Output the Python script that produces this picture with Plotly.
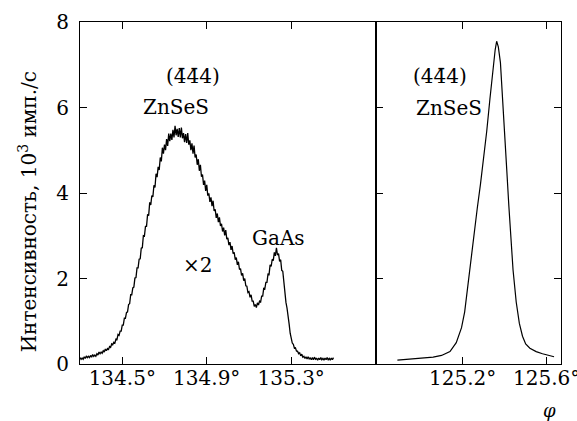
import plotly.graph_objects as go

# ---- data ----
phi_left = [
    134.300, 134.305, 134.310, 134.315, 134.320, 134.325, 134.330, 134.335, 134.340, 134.345,
    134.350, 134.355, 134.360, 134.365, 134.370, 134.375, 134.380, 134.385, 134.390, 134.395,
    134.400, 134.405, 134.410, 134.415, 134.420, 134.425, 134.430, 134.435, 134.440, 134.445,
    134.450, 134.455, 134.460, 134.465, 134.470, 134.475, 134.480, 134.485, 134.490, 134.495,
    134.500, 134.505, 134.510, 134.515, 134.520, 134.525, 134.530, 134.535, 134.540, 134.545,
    134.550, 134.555, 134.560, 134.565, 134.570, 134.575, 134.580, 134.585, 134.590, 134.595,
    134.600, 134.605, 134.610, 134.615, 134.620, 134.625, 134.630, 134.635, 134.640, 134.645,
    134.650, 134.655, 134.660, 134.665, 134.670, 134.675, 134.680, 134.685, 134.690, 134.695,
    134.700, 134.705, 134.710, 134.715, 134.720, 134.725, 134.730, 134.735, 134.740, 134.745,
    134.750, 134.755, 134.760, 134.765, 134.770, 134.775, 134.780, 134.785, 134.790, 134.795,
    134.800, 134.805, 134.810, 134.815, 134.820, 134.825, 134.830, 134.835, 134.840, 134.845,
    134.850, 134.855, 134.860, 134.865, 134.870, 134.875, 134.880, 134.885, 134.890, 134.895,
    134.900, 134.905, 134.910, 134.915, 134.920, 134.925, 134.930, 134.935, 134.940, 134.945,
    134.950, 134.955, 134.960, 134.965, 134.970, 134.975, 134.980, 134.985, 134.990, 134.995,
    135.000, 135.005, 135.010, 135.015, 135.020, 135.025, 135.030, 135.035, 135.040, 135.045,
    135.050, 135.055, 135.060, 135.065, 135.070, 135.075, 135.080, 135.085, 135.090, 135.095,
    135.100, 135.105, 135.110, 135.115, 135.120, 135.125, 135.130, 135.135, 135.140, 135.145,
    135.150, 135.155, 135.160, 135.165, 135.170, 135.175, 135.180, 135.185, 135.190, 135.195,
    135.200, 135.205, 135.210, 135.215, 135.220, 135.225, 135.230, 135.235, 135.240, 135.245,
    135.250, 135.255, 135.260, 135.265, 135.270, 135.275, 135.280, 135.285, 135.290, 135.295,
    135.300, 135.305, 135.310, 135.315, 135.320, 135.325, 135.330, 135.335, 135.340, 135.345,
    135.350, 135.355, 135.360, 135.365, 135.370, 135.375, 135.380, 135.385, 135.390, 135.395,
    135.400, 135.405, 135.410, 135.415, 135.420, 135.425, 135.430, 135.435, 135.440, 135.445,
    135.450, 135.455, 135.460, 135.465, 135.470, 135.475, 135.480, 135.485, 135.490, 135.495,
    135.500]
counts_left = [
    0.15, 0.11, 0.14, 0.11, 0.17, 0.13, 0.19, 0.15, 0.18, 0.15,
    0.20, 0.16, 0.22, 0.18, 0.21, 0.18, 0.24, 0.21, 0.28, 0.24,
    0.28, 0.25, 0.31, 0.28, 0.35, 0.31, 0.36, 0.34, 0.41, 0.39,
    0.47, 0.45, 0.51, 0.49, 0.58, 0.57, 0.69, 0.67, 0.77, 0.77,
    0.91, 0.91, 1.07, 1.07, 1.20, 1.22, 1.39, 1.41, 1.62, 1.62,
    1.78, 1.80, 2.01, 2.02, 2.25, 2.25, 2.45, 2.46, 2.71, 2.72,
    3.00, 2.99, 3.22, 3.22, 3.50, 3.47, 3.78, 3.72, 3.94, 3.91,
    4.18, 4.13, 4.45, 4.37, 4.61, 4.54, 4.83, 4.74, 5.06, 4.92,
    5.13, 5.00, 5.26, 5.10, 5.39, 5.21, 5.39, 5.24, 5.48, 5.30,
    5.57, 5.35, 5.50, 5.31, 5.52, 5.30, 5.53, 5.28, 5.40, 5.19,
    5.38, 5.17, 5.40, 5.13, 5.23, 5.00, 5.16, 4.92, 5.11, 4.83,
    4.90, 4.66, 4.79, 4.52, 4.66, 4.38, 4.43, 4.19, 4.29, 4.05,
    4.19, 3.94, 3.99, 3.79, 3.90, 3.69, 3.82, 3.58, 3.62, 3.42,
    3.52, 3.32, 3.43, 3.23, 3.28, 3.10, 3.19, 3.01, 3.13, 2.92,
    2.95, 2.78, 2.85, 2.67, 2.76, 2.58, 2.61, 2.44, 2.49, 2.32,
    2.39, 2.21, 2.23, 2.07, 2.12, 1.95, 2.00, 1.83, 1.82, 1.67,
    1.69, 1.56, 1.62, 1.47, 1.47, 1.35, 1.39, 1.32, 1.43, 1.38,
    1.47, 1.45, 1.59, 1.59, 1.78, 1.76, 1.91, 1.91, 2.10, 2.09,
    2.32, 2.28, 2.45, 2.42, 2.61, 2.53, 2.72, 2.55, 2.58, 2.40,
    2.44, 2.19, 2.17, 1.86, 1.72, 1.44, 1.31, 1.05, 0.94, 0.72,
    0.61, 0.49, 0.46, 0.37, 0.38, 0.30, 0.30, 0.24, 0.26, 0.19,
    0.23, 0.16, 0.18, 0.13, 0.17, 0.12, 0.17, 0.12, 0.14, 0.10,
    0.15, 0.10, 0.16, 0.11, 0.13, 0.09, 0.14, 0.10, 0.15, 0.10,
    0.13, 0.09, 0.14, 0.10, 0.15, 0.10, 0.13, 0.09, 0.14, 0.10,
    0.15]

phi_right = [124.89, 124.95, 125.01, 125.06, 125.10, 125.14, 125.17, 125.195, 125.21, 125.225,
             125.24, 125.255, 125.27, 125.285, 125.30, 125.315, 125.33, 125.345, 125.355, 125.362,
             125.37, 125.38, 125.39, 125.40, 125.41, 125.42, 125.43, 125.44, 125.455, 125.47,
             125.485, 125.50, 125.52, 125.55, 125.58, 125.61, 125.635]
counts_right = [0.09, 0.11, 0.13, 0.16, 0.20, 0.29, 0.50, 0.85, 1.22, 1.85,
                2.50, 3.10, 3.65, 4.20, 4.80, 5.45, 6.20, 6.95, 7.35, 7.55,
                7.42, 7.05, 6.30, 5.40, 4.55, 3.70, 2.90, 2.20, 1.45, 0.95,
                0.65, 0.47, 0.37, 0.29, 0.24, 0.21, 0.17]

left_ticks = [134.5, 134.9, 135.3]
right_ticks = [125.2, 125.6]
y_ticks = [0, 2, 4, 6, 8]

FONT = "DejaVu Serif"
FS = 20
TXT = "black"

fig = go.Figure()
fig.add_trace(go.Scatter(x=phi_left, y=counts_left, mode="lines",
                         line=dict(color="black", width=1.3), xaxis="x", yaxis="y",
                         showlegend=False, hoverinfo="skip"))
fig.add_trace(go.Scatter(x=phi_right, y=counts_right, mode="lines",
                         line=dict(color="black", width=1.2), xaxis="x2", yaxis="y2",
                         showlegend=False, hoverinfo="skip"))

split = 0.6148


def axis_style():
    return dict(showline=True, linecolor="black", linewidth=1, ticks="inside",
                ticklen=7, tickcolor="black", tickwidth=1, showgrid=False, zeroline=False,
                automargin=False,
                tickfont=dict(family=FONT, size=FS, color=TXT))


fig.update_layout(
    width=577, height=421,
    margin=dict(l=80, r=16, t=22, b=57, autoexpand=False),
    paper_bgcolor="white", plot_bgcolor="white",
    font=dict(family=FONT, size=FS, color=TXT),
    xaxis=dict(domain=[0, split], range=[134.3, 135.7], tickvals=left_ticks,
               ticktext=[f"{v:.1f}°" for v in left_ticks], mirror="ticks",
               anchor="y", ticklabelstandoff=-4, **axis_style()),
    yaxis=dict(domain=[0, 1], range=[0, 8], tickvals=y_ticks,
               ticktext=[str(v) for v in y_ticks], mirror=True, anchor="x",
               ticklabelstandoff=6, **axis_style()),
    xaxis2=dict(domain=[split, 1], range=[124.787, 125.668], tickvals=right_ticks,
                ticktext=[f"{v:.1f}°" for v in right_ticks], mirror="ticks",
                anchor="y2", ticklabelstandoff=-4, ticklabeloverflow="allow", **axis_style()),
    yaxis2=dict(domain=[0, 1], range=[0, 8], tickvals=y_ticks, showticklabels=False,
                mirror="ticks", anchor="x2", **axis_style()),
)

annotations = [
    dict(x=134.834, y=6.73, xref="x", yref="y", text="(4\u03044\u03044)"),
    dict(x=134.753, y=6.02, xref="x", yref="y", text="ZnSeS"),
    dict(x=135.241, y=2.95, xref="x", yref="y", text="GaAs"),
    dict(x=134.857, y=2.31, xref="x", yref="y", text="\u00d72"),
    dict(x=125.092, y=6.73, xref="x2", yref="y2", text="(44\u03044)"),
    dict(x=125.135, y=6.0, xref="x2", yref="y2", text="ZnSeS"),
]
for a in annotations:
    fig.add_annotation(showarrow=False, xanchor="center", yanchor="middle",
                       font=dict(family=FONT, size=FS, color=TXT), **a)
fig.add_annotation(x=-0.108, y=0.4436, xref="paper", yref="paper", textangle=-90,
                   text="Интенсивность, 10<sup>3</sup> имп./с", showarrow=False,
                   xanchor="center", yanchor="middle",
                   font=dict(family=FONT, size=20, color=TXT))
fig.add_annotation(x=0.977, y=-0.135, xref="paper", yref="paper", text="<i>φ</i>",
                   showarrow=False, xanchor="center", yanchor="middle",
                   font=dict(family=FONT, size=18, color=TXT))

fig.write_html("out.html")
